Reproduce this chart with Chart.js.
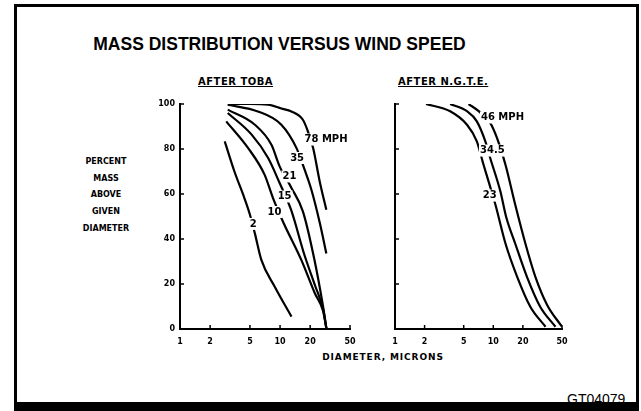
<!DOCTYPE html>
<html>
<head>
<meta charset="utf-8">
<script src="https://cdn.jsdelivr.net/npm/chart.js@4.4.1/dist/chart.umd.min.js"></script>
<style>
  body { margin: 0; background: #fff; width: 641px; height: 411px; overflow: hidden; position: relative; font-family: "DejaVu Sans", sans-serif; color: #000; }
  .frame { position: absolute; left: 14px; top: 4px; width: 619px; height: 395px; border-left: 3px solid #000; border-top: 3px solid #000; border-right: 3px solid #000; border-bottom: 9px solid #000; z-index: 5; }
  .title { position: absolute; left: 0; width: 559px; top: 34px; text-align: center; font: bold 17.5px "Liberation Sans", Arial, sans-serif; }
  .sub { position: absolute; top: 76px; font: bold 10px "DejaVu Sans", sans-serif; letter-spacing: 0.5px; text-decoration: underline; }
  .ylab { position: absolute; left: 66px; top: 154px; width: 80px; text-align: center; font: bold 8px "DejaVu Sans", sans-serif; line-height: 16.7px; }
  .xlab { position: absolute; left: 290px; width: 186px; top: 352px; text-align: center; font: bold 9px "DejaVu Sans", sans-serif; letter-spacing: 0.9px; }
  .code { position: absolute; left: 567px; top: 391px; font: 14px "Liberation Sans", Arial, sans-serif; }
  .panel { position: absolute; top: 94px; width: 225px; height: 260px; }
</style>
</head>
<body>
<div class="frame"></div>
<div class="title">MASS DISTRIBUTION VERSUS WIND SPEED</div>
<div class="sub" style="left:198px">AFTER TOBA</div>
<div class="sub" style="left:398px">AFTER N.G.T.E.</div>
<div class="ylab">PERCENT<br>MASS<br>ABOVE<br>GIVEN<br>DIAMETER</div>
<div class="xlab">DIAMETER, MICRONS</div>
<div class="code">GT04079</div>
<div class="panel" style="left:140px"><canvas id="toba" width="225" height="260"></canvas></div>
<div class="panel" style="left:355px"><canvas id="ngte" width="225" height="260"></canvas></div>
<script>
// axis ticks
const ticksX = [1, 2, 5, 10, 20, 50];
const ticksY = [0, 20, 40, 60, 80, 100];

// After TOBA (diameter in microns, percent mass above)
const toba78Diam = [3.0, 5.0, 7.6, 10.3, 13, 16.9, 18.7, 21.4, 24.9, 29];
const toba78Pct  = [100, 100, 99.7, 98, 96.7, 93, 88.6, 80.4, 65.6, 53];
const toba35Diam = [3.0, 6.0, 10.3, 14.6, 17.6, 20.6, 25, 29];
const toba35Pct  = [99.7, 96.7, 90.8, 80.4, 70.8, 61.8, 47, 33.6];
const toba21Diam = [3.0, 5.6, 8.2, 9.9, 13, 16.9, 22, 26.9, 29.1];
const toba21Pct  = [97.5, 90.8, 81.9, 72.3, 62.7, 52.3, 31, 10, 0];
const toba15Diam = [3.0, 5.2, 7.6, 9.9, 12.9, 17.5, 22.5, 26.9, 29.1];
const toba15Pct  = [96, 86.4, 76, 64.9, 52.9, 33, 19, 9, 0];
const toba10Diam = [2.9, 4.8, 7.0, 8.5, 10.7, 16.3, 22.2, 26.9, 29.1];
const toba10Pct  = [92.3, 80.4, 68.6, 58.2, 47.7, 30.7, 16, 8, 0];
const toba2Diam  = [2.8, 3.5, 4.4, 5.0, 5.6, 6.5, 8.85, 13];
const toba2Pct   = [83.4, 70, 58.2, 50.8, 42.5, 30.7, 18.8, 5.5];

const tobaLabelText = ['78 MPH', '35', '21', '15', '10', '2'];
const tobaLabelDiam = [28.8, 14.8, 12.4, 11.1, 8.8, 5.4];
const tobaLabelPct  = [84.2, 76, 67.8, 58.9, 52, 46.7];

// After N.G.T.E.
const ngte46Diam  = [5.6, 7.1, 9.3, 10.9, 13.3, 16.7, 21.2, 26.8, 35.3, 50];
const ngte46Pct   = [100, 96.8, 91.6, 84.9, 73, 55.3, 38, 23.2, 10.7, 1];
const ngte345Diam = [3.64, 5.4, 6.8, 8.3, 9.3, 11.8, 13.5, 16.7, 22, 30, 42.9];
const ngte345Pct  = [100, 96.8, 92.3, 83.4, 76, 61.2, 49.9, 38, 23.2, 9.9, 1];
const ngte23Diam  = [2.07, 3.64, 5.4, 6.8, 7.96, 8.95, 10.5, 13.3, 17.5, 23.8, 34];
const ngte23Pct   = [100, 96.8, 90.8, 83.4, 73, 65.6, 55.3, 38, 23.2, 9.9, 1];

const ngteLabelText = ['46 MPH', '34.5', '23'];
const ngteLabelDiam = [12.4, 9.77, 9.2];
const ngteLabelPct  = [94, 79.3, 59.3];

const innerTicks = {
  id: 'innerTicks',
  afterDatasetsDraw(chart) {
    const { ctx, chartArea, scales: { x, y } } = chart;
    ctx.save();
    ctx.strokeStyle = '#000';
    ctx.lineWidth = 1.5;
    x.ticks.forEach(t => {
      const px = x.getPixelForValue(t.value);
      ctx.beginPath(); ctx.moveTo(px, chartArea.bottom); ctx.lineTo(px, chartArea.bottom - 4); ctx.stroke();
    });
    y.ticks.forEach(t => {
      const py = y.getPixelForValue(t.value);
      ctx.beginPath(); ctx.moveTo(chartArea.left, py); ctx.lineTo(chartArea.left + 4, py); ctx.stroke();
    });
    ctx.restore();
  }
};

const curveLabels = {
  id: 'curveLabels',
  afterDatasetsDraw(chart, args, opts) {
    const { ctx, scales: { x, y } } = chart;
    ctx.save();
    ctx.font = 'bold 10px "DejaVu Sans", sans-serif';
    ctx.textAlign = 'center';
    ctx.textBaseline = 'middle';
    opts.text.forEach((txt, i) => {
      const px = x.getPixelForValue(opts.diam[i]);
      const py = y.getPixelForValue(opts.pct[i]);
      const w = ctx.measureText(txt).width;
      ctx.fillStyle = '#fff';
      ctx.fillRect(px - w / 2 - 1, py - 6, w + 2, 12);
      ctx.fillStyle = '#000';
      ctx.fillText(txt, px, py);
    });
    ctx.restore();
  }
};

function makeSeries(diam, pct) {
  return {
    data: diam.map((d, i) => ({ x: d, y: pct[i] })),
    borderColor: '#000',
    borderWidth: 2.2,
    pointRadius: 0,
    fill: false,
    cubicInterpolationMode: 'monotone'
  };
}

function buildChart(id, series, labelText, labelDiam, labelPct, showY) {
  const tickFont = { family: '"DejaVu Sans", sans-serif', size: 8, weight: 'bold' };
  return new Chart(document.getElementById(id), {
    type: 'line',
    data: { datasets: series },
    options: {
      responsive: false,
      animation: false,
      layout: { padding: { top: 10, right: showY ? 15 : 18, left: 0, bottom: 0 } },
      plugins: {
        legend: { display: false },
        tooltip: { enabled: false },
        curveLabels: { text: labelText, diam: labelDiam, pct: labelPct }
      },
      scales: {
        x: {
          type: 'logarithmic',
          min: 1,
          max: 50,
          afterBuildTicks: s => { s.ticks = ticksX.map(v => ({ value: v })); },
          afterFit: s => { s.height = 25; },
          grid: { display: false, drawTicks: false },
          border: { display: true, color: '#000', width: 2 },
          ticks: { color: '#000', font: tickFont, padding: 8, autoSkip: false, maxRotation: 0, callback: v => String(v) }
        },
        y: {
          min: 0,
          max: 100,
          afterBuildTicks: s => { s.ticks = ticksY.map(v => ({ value: v })); },
          afterFit: s => { s.width = 40; },
          grid: { display: false, drawTicks: false },
          border: { display: true, color: '#000', width: 2 },
          ticks: { color: '#000', font: tickFont, padding: 5, callback: v => showY ? String(v) : '' }
        }
      }
    },
    plugins: [innerTicks, curveLabels]
  });
}

buildChart('toba', [
  makeSeries(toba78Diam, toba78Pct),
  makeSeries(toba35Diam, toba35Pct),
  makeSeries(toba21Diam, toba21Pct),
  makeSeries(toba15Diam, toba15Pct),
  makeSeries(toba10Diam, toba10Pct),
  makeSeries(toba2Diam, toba2Pct)
], tobaLabelText, tobaLabelDiam, tobaLabelPct, true);

buildChart('ngte', [
  makeSeries(ngte46Diam, ngte46Pct),
  makeSeries(ngte345Diam, ngte345Pct),
  makeSeries(ngte23Diam, ngte23Pct)
], ngteLabelText, ngteLabelDiam, ngteLabelPct, false);
</script>
</body>
</html>
